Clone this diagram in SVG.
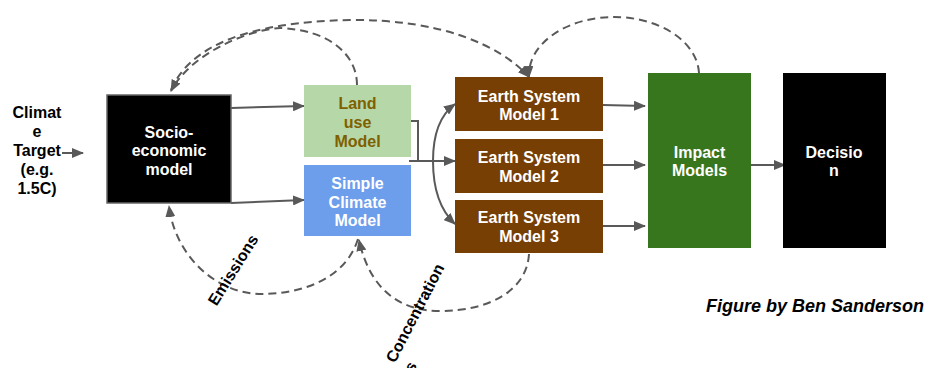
<svg xmlns="http://www.w3.org/2000/svg" width="928" height="368" viewBox="0 0 928 368">
<style>
.t{font-family:"Liberation Sans",Arial,sans-serif;font-weight:bold;font-size:16px;text-anchor:middle}
.w{fill:#ffffff}
.k{fill:#000000}
.c{fill:none;stroke:#595959;stroke-width:2}
.d{fill:none;stroke:#595959;stroke-width:2;stroke-dasharray:8 5}
</style>
<defs>
<marker id="ah" viewBox="0 0 12 10" refX="11" refY="5" markerWidth="12" markerHeight="10" markerUnits="userSpaceOnUse" orient="auto-start-reverse">
<path d="M0,0 L12,5 L0,10 z" fill="#595959"/>
</marker>
</defs>
<rect width="928" height="368" fill="#ffffff"/>

<g id="connectors">
<path class="c" d="M62,153 H83" marker-end="url(#ah)"/>
<path class="c" d="M231,108 L304,106" marker-end="url(#ah)"/>
<path class="c" d="M231,203 L304,200" marker-end="url(#ah)"/>
<path class="c" d="M411,121 H418 V161 H455" marker-end="url(#ah)"/>
<path class="c" d="M409,161 H418"/>
<path class="c" d="M433,161 C433,135 440,115 455,104" marker-end="url(#ah)"/>
<path class="c" d="M433,161 C433,190 440,210 455,224" marker-end="url(#ah)"/>
<path class="c" d="M603,105 L645,106" marker-end="url(#ah)"/>
<path class="c" d="M603,165 L645,165" marker-end="url(#ah)"/>
<path class="c" d="M603,226 L645,226" marker-end="url(#ah)"/>
<path class="c" d="M747,165 L785,165" marker-end="url(#ah)"/>
<path class="d" d="M699,73 A85,58 0 0 0 529,77" marker-end="url(#ah)"/>
<path class="d" d="M171,90 C190,45 250,22 350,20 C440,19 500,45 529,77" marker-end="url(#ah)"/>
<path class="d" d="M357,85 C357,55 330,30 280,28 C245,30 190,55 171,91" marker-end="url(#ah)"/>
<path class="d" d="M358,239 C345,280 300,294 262,294 C215,294 175,255 169,206" marker-end="url(#ah)"/>
<path class="d" d="M529,254 C527,290 490,311 440,311 C400,311 370,290 359,240" marker-end="url(#ah)"/>
<text class="t k" transform="translate(233,270) rotate(-58)" y="5.5">Emissions</text>
<g transform="translate(415,313) rotate(-62.7)">
<text class="t k" y="5.5">Concentration</text>
<text class="t k" x="-50" y="26">s</text>
</g>
</g>

<g id="climate-target">
<text class="t k" x="37" y="117.5">Climat</text>
<text class="t k" x="37" y="137">e</text>
<text class="t k" x="37" y="155.5">Target</text>
<text class="t k" x="37" y="174.5">(e.g.</text>
<text class="t k" x="37" y="193.5">1.5C)</text>
</g>

<g id="socio-economic">
<rect x="107" y="95" width="124" height="108" fill="#000000" stroke="#666666" stroke-width="1.5"/>
<text class="t w" x="169" y="137.5">Socio-</text>
<text class="t w" x="169" y="156">economic</text>
<text class="t w" x="169" y="174.5">model</text>
</g>

<g id="land-use">
<rect x="304" y="85" width="107" height="72" fill="#b6d7a8"/>
<text class="t" fill="#7f6000" x="357.5" y="108.5">Land</text>
<text class="t" fill="#7f6000" x="357.5" y="127.5">use</text>
<text class="t" fill="#7f6000" x="357.5" y="146.5">Model</text>
</g>

<g id="simple-climate">
<rect x="304" y="165" width="107" height="71" fill="#6d9eeb"/>
<text class="t w" x="357.5" y="188.5">Simple</text>
<text class="t w" x="357.5" y="207.5">Climate</text>
<text class="t w" x="357.5" y="226">Model</text>
</g>

<g id="esm1">
<rect x="455" y="77" width="148" height="54" fill="#783f04"/>
<text class="t w" x="529" y="101.5">Earth System</text>
<text class="t w" x="529" y="119.5">Model 1</text>
</g>
<g id="esm2">
<rect x="455" y="139" width="148" height="54" fill="#783f04"/>
<text class="t w" x="529" y="162.5">Earth System</text>
<text class="t w" x="529" y="181.5">Model 2</text>
</g>
<g id="esm3">
<rect x="455" y="200" width="148" height="53" fill="#783f04"/>
<text class="t w" x="529" y="222.5">Earth System</text>
<text class="t w" x="529" y="241.5">Model 3</text>
</g>

<g id="impact">
<rect x="648" y="73" width="103" height="175" fill="#38761d"/>
<text class="t w" x="699.5" y="157.5">Impact</text>
<text class="t w" x="699.5" y="175.5">Models</text>
</g>

<g id="decision">
<rect x="783" y="73" width="103" height="175" fill="#000000"/>
<text class="t w" x="834" y="157.5">Decisio</text>
<text class="t w" x="834" y="175.5">n</text>
</g>

<text x="924" y="311.5" font-family="Liberation Sans, Arial, sans-serif" font-weight="bold" font-style="italic" font-size="18" text-anchor="end" fill="#000000">Figure by Ben Sanderson</text>
</svg>
